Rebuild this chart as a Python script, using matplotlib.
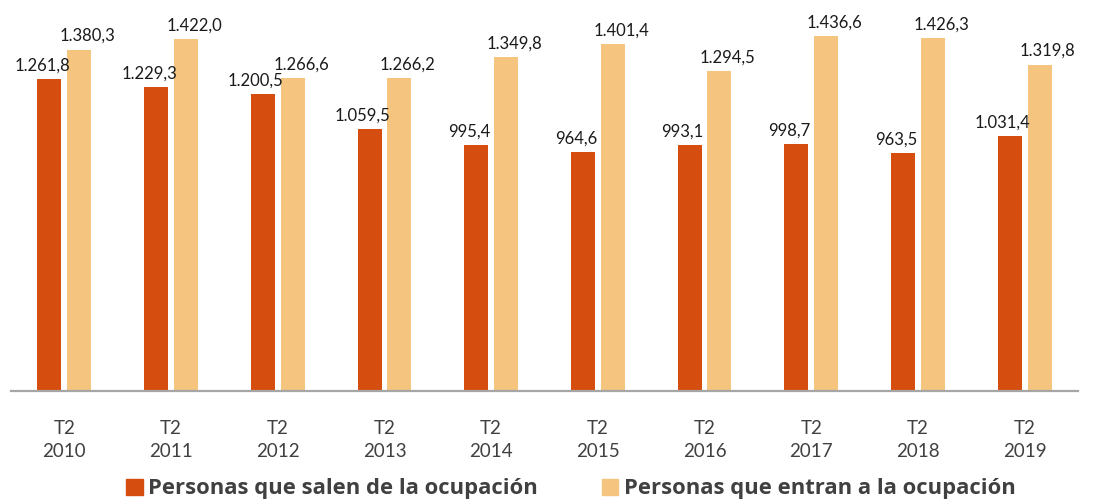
import matplotlib
matplotlib.use("Agg")
import matplotlib.pyplot as plt
import numpy as np
from matplotlib.patches import Patch

quarters = ["T2", "T2", "T2", "T2", "T2", "T2", "T2", "T2", "T2", "T2"]
years = ["2010", "2011", "2012", "2013", "2014", "2015", "2016", "2017", "2018", "2019"]
salen = [1261.8, 1229.3, 1200.5, 1059.5, 995.4, 964.6, 993.1, 998.7, 963.5, 1031.4]
entran = [1380.3, 1422.0, 1266.6, 1266.2, 1349.8, 1401.4, 1294.5, 1436.6, 1426.3, 1319.8]
series_names = ["Personas que salen de la ocupación", "Personas que entran a la ocupación"]

c_salen = "#D64D10"
c_entran = "#F5C47F"
plt.rcParams['font.family'] = ['Lato', 'DejaVu Sans']

def fmt(v):
    s = f"{v:,.1f}"
    return s.replace(",", "X").replace(".", ",").replace("X", ".")

fig = plt.figure(figsize=(10.93, 4.99), dpi=100)
ax = fig.add_axes([11/1093, 108/499, 1067/1093, 391/499])

x = np.arange(len(years))
w = 0.225
off = 0.14
ax.bar(x - off, salen, w, color=c_salen)
ax.bar(x + off, entran, w, color=c_entran)

for xi, v in zip(x, salen):
    ax.annotate(fmt(v), (xi - off, v), xytext=(-5, 4), textcoords="offset points",
                ha="center", va="bottom", fontsize=12, color="#1a1a1a")
for xi, v in zip(x, entran):
    ax.annotate(fmt(v), (xi + off, v), xytext=(6, 4), textcoords="offset points",
                ha="center", va="bottom", fontsize=12, color="#1a1a1a")

ax.set_xlim(-0.5, len(years) - 0.5)
ax.set_ylim(0, 1581)
ax.set_yticks([])
ax.set_xticks(x)
ax.set_xticklabels([f"{q}\n{y}" for q, y in zip(quarters, years)], fontsize=13.5,
                   color="#404040", linespacing=1.45)
ax.tick_params(axis="x", length=0, pad=21)
for s in ["top", "right", "left"]:
    ax.spines[s].set_visible(False)
ax.spines["bottom"].set_color("#A6A6A6")
ax.spines["bottom"].set_linewidth(1.6)

handles = [Patch(color=c_salen), Patch(color=c_entran)]
leg = fig.legend(handles, series_names, loc="lower center", bbox_to_anchor=(571/1093, -0.04),
                 ncol=2, frameon=False, handlelength=0.75, handleheight=0.75,
                 handletextpad=0.25, columnspacing=2.9,
                 prop={"family": ["Open Sans", "DejaVu Sans"], "weight": "bold", "size": 15.8})
for t in leg.get_texts():
    t.set_color("#404040")

fig.savefig("out.png", dpi=100)
